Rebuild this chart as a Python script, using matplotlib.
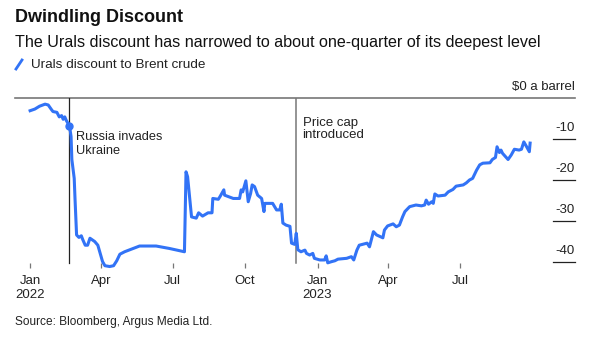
import pandas as pd
import matplotlib.pyplot as plt
from matplotlib.lines import Line2D

plt.rcParams['font.family'] = ['Liberation Sans', 'DejaVu Sans']

# Urals discount to Brent crude, $ a barrel
dates = [
    '2022-01-01', '2022-01-07', '2022-01-13', '2022-01-20', '2022-01-24',
    '2022-01-28', '2022-01-30', '2022-02-04', '2022-02-07', '2022-02-10',
    '2022-02-12', '2022-02-14', '2022-02-16', '2022-02-20', '2022-02-22',
    '2022-02-23', '2022-02-26', '2022-02-27', '2022-03-01', '2022-03-04',
    '2022-03-07', '2022-03-09', '2022-03-12', '2022-03-15', '2022-03-18',
    '2022-03-21', '2022-03-24', '2022-03-28', '2022-03-31', '2022-04-03',
    '2022-04-06', '2022-04-12', '2022-04-17', '2022-04-21', '2022-04-25',
    '2022-05-01', '2022-05-12', '2022-05-20', '2022-06-10', '2022-06-27',
    '2022-07-16', '2022-07-18', '2022-07-20', '2022-07-25', '2022-07-31',
    '2022-08-03', '2022-08-08', '2022-08-15', '2022-08-20', '2022-08-21',
    '2022-08-28', '2022-08-30', '2022-09-04', '2022-09-05', '2022-09-16',
    '2022-09-24', '2022-09-26', '2022-09-28', '2022-10-02', '2022-10-05',
    '2022-10-08', '2022-10-10', '2022-10-13', '2022-10-17', '2022-10-22',
    '2022-10-25', '2022-10-26', '2022-11-05', '2022-11-10', '2022-11-14',
    '2022-11-16', '2022-11-18', '2022-11-22', '2022-11-27', '2022-11-29',
    '2022-12-03', '2022-12-05', '2022-12-07', '2022-12-11', '2022-12-16',
    '2022-12-18', '2022-12-22', '2022-12-26', '2022-12-28', '2023-01-04',
    '2023-01-10', '2023-01-12', '2023-01-14', '2023-01-19', '2023-01-23',
    '2023-01-27', '2023-02-07', '2023-02-13', '2023-02-16', '2023-02-20',
    '2023-02-23', '2023-03-05', '2023-03-08', '2023-03-13', '2023-03-17',
    '2023-03-25', '2023-03-27', '2023-03-31', '2023-04-07', '2023-04-11',
    '2023-04-15', '2023-04-19', '2023-04-22', '2023-04-28', '2023-05-06',
    '2023-05-13', '2023-05-17', '2023-05-19', '2023-05-22', '2023-05-26',
    '2023-05-28', '2023-05-30', '2023-06-03', '2023-06-12', '2023-06-16',
    '2023-06-22', '2023-06-26', '2023-07-05', '2023-07-09', '2023-07-13',
    '2023-07-17', '2023-07-22', '2023-07-26', '2023-07-30', '2023-08-08',
    '2023-08-11', '2023-08-15', '2023-08-17', '2023-08-20', '2023-08-22',
    '2023-08-24', '2023-08-31', '2023-09-04', '2023-09-08', '2023-09-14',
    '2023-09-17', '2023-09-20', '2023-09-23', '2023-09-27', '2023-09-28',
]
discount = [
    -3.1, -2.7, -2.0, -1.5, -1.7,
    -2.8, -3.3, -3.5, -4.6, -4.3,
    -5.2, -4.6, -5.5, -6.8, -9.4,
    -15.0, -19.6, -24.5, -33.4, -34.0,
    -33.6, -34.6, -35.9, -35.9, -34.2,
    -34.6, -35.0, -35.9, -37.9, -39.9,
    -40.9, -41.1, -40.9, -39.7, -38.1,
    -37.5, -36.7, -36.1, -36.1, -36.7,
    -37.5, -18.0, -19.2, -29.0, -29.3,
    -28.0, -28.8, -28.0, -28.0, -24.5,
    -24.7, -24.1, -22.4, -23.7, -24.5,
    -24.5, -22.4, -22.9, -20.2, -25.3,
    -23.3, -21.2, -21.6, -23.7, -24.5,
    -27.7, -25.7, -25.7, -27.3, -27.3,
    -25.9, -30.5, -31.0, -31.3, -35.4,
    -35.7, -33.0, -37.0, -37.5, -37.1,
    -37.9, -38.3, -37.9, -39.1, -39.5,
    -39.5, -38.5, -40.2, -39.9, -39.7,
    -39.3, -39.1, -38.7, -39.5, -37.1,
    -35.9, -35.4, -36.3, -32.6, -33.4,
    -34.1, -32.2, -31.2, -30.7, -31.4,
    -31.0, -29.0, -27.7, -26.5, -26.1,
    -26.3, -26.1, -24.9, -25.9, -25.3,
    -25.7, -23.4, -23.9, -23.7, -22.9,
    -22.3, -21.5, -21.2, -20.7, -20.0,
    -19.6, -17.6, -16.3, -15.9, -15.8,
    -15.0, -14.5, -11.9, -13.3, -12.7,
    -13.5, -15.0, -13.9, -12.5, -12.7,
    -12.5, -10.7, -11.7, -13.1, -11.0,
]

events = ['2022-02-20', '2022-12-05']
event_labels = ['Russia invades\nUkraine', 'Price cap\nintroduced']

xtick_dates = ['2022-01-01', '2022-04-01', '2022-07-01', '2022-10-01',
               '2023-01-01', '2023-04-01', '2023-07-01']
xtick_labels = ['Jan\n2022', 'Apr', 'Jul', 'Oct', 'Jan\n2023', 'Apr', 'Jul']
yticks = [0, -10, -20, -30, -40]
ytick_labels = ['$0 a barrel', '-10', '-20', '-30', '-40']

s = pd.Series(discount, index=pd.to_datetime(dates))
ev = pd.to_datetime(events)

W, H = 600, 339
fig = plt.figure(figsize=(W / 100, H / 100), dpi=100)


def fx(px):
    return px / W


def fy(py):
    return 1 - py / H


ax = fig.add_axes([fx(15), fy(268), fx(575) - fx(15), fy(98) - fy(268)])

blue = '#3273f6'
ax.plot(s.index, s.values, color=blue, lw=2.2, solid_joinstyle='round',
        clip_on=False, zorder=3)

# event markers
ax.axvline(ev[0], ymin=0.03, ymax=1, color='#222222', lw=0.9, zorder=2)
ax.axvline(ev[1], ymin=0.03, ymax=1, color='#777777', lw=1.1, zorder=2)
ax.plot(ev[0], s.loc[ev[0]], 'o', color=blue, ms=5, zorder=4)
ax.text(ev[0] + pd.Timedelta(days=8), -8.0, event_labels[0], fontsize=9.2,
        color='#222222', va='top', ha='left', linespacing=1.25)
ax.text(ev[1] + pd.Timedelta(days=8), -4.6, event_labels[1], fontsize=9.5,
        color='#222222', va='top', ha='left', linespacing=1.05)

start = pd.Timestamp('2022-01-01')
ax.set_xlim(start - pd.Timedelta(days=19.2), start + pd.Timedelta(days=692))
ax.set_ylim(-41.46, 0)

# y scale drawn on the right: short rules with labels sitting above them
ytrans = ax.get_yaxis_transform()
for v, lab in zip(yticks, ytick_labels):
    if v == 0:
        ax.plot([0, 1], [v, v], transform=ytrans, color='#777777', lw=1.2,
                clip_on=False, zorder=1)
    else:
        ax.plot([0.9607, 1], [v, v], transform=ytrans, color='#222222',
                lw=0.9, clip_on=False, zorder=1)
    ax.annotate(lab, xy=(1, v), xycoords=ytrans, xytext=(0, 3.5),
                textcoords='offset points', ha='right', va='bottom',
                fontsize=9.5, color='#222222')

ax.set_yticks([])
ax.set_xticks(pd.to_datetime(xtick_dates))
ax.set_xticklabels(xtick_labels, fontsize=9.5, color='#222222')
ax.tick_params(axis='x', direction='in', length=3.5, width=0.9,
               color='#777777', pad=5)
for side in ['top', 'right', 'left', 'bottom']:
    ax.spines[side].set_visible(False)
ax.patch.set_alpha(0)

# header
fig.text(fx(15), fy(17), 'Dwindling Discount', fontsize=13, fontweight='bold',
         ha='left', va='center', color='#111111')
fig.text(fx(15), fy(42), 'The Urals discount has narrowed to about one-quarter '
         'of its deepest level', fontsize=11.6, ha='left', va='center',
         color='#111111')
fig.add_artist(Line2D([fx(16), fx(22)], [fy(69), fy(60)], color=blue, lw=2))
fig.text(fx(31), fy(65), 'Urals discount to Brent crude', fontsize=9.7,
         ha='left', va='center', color='#222222')
fig.text(fx(15), fy(322), 'Source: Bloomberg, Argus Media Ltd.', fontsize=8.6,
         ha='left', va='center', color='#222222')

fig.savefig('out.png', dpi=100, facecolor='white')
